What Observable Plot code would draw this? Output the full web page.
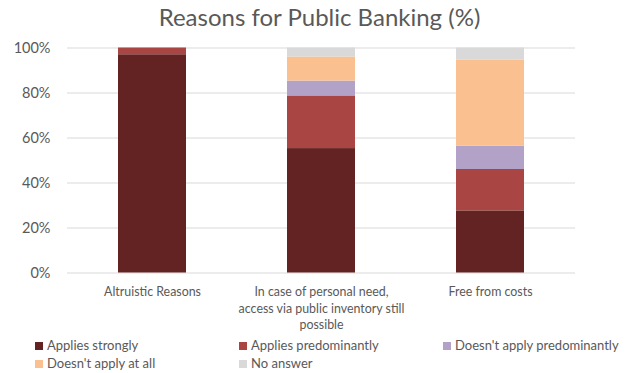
<!DOCTYPE html>
<html>
<head>
<meta charset="utf-8">
<script src="https://cdn.jsdelivr.net/npm/d3@7"></script>
<script src="https://cdn.jsdelivr.net/npm/@observablehq/plot@0.6"></script>
<style>
  html, body { margin: 0; padding: 0; background: #fff; }
  body { width: 625px; height: 373px; overflow: hidden; font-family: Lato, "Open Sans", sans-serif; }
  #title { height: 36px; line-height: 34px; font-size: 24px; color: #595959; text-align: center; padding-left: 14px; box-sizing: border-box; }
  #chart svg { display: block; }
  #legend { position: relative; height: 37px; font-size: 13px; color: #595959; }
  .item { position: absolute; height: 18px; line-height: 18px; white-space: nowrap; }
  .sw { display: inline-block; width: 8px; height: 8px; margin-right: 4px; vertical-align: 0px; }
</style>
</head>
<body>
<div id="title">Reasons for Public Banking (%)</div>
<div id="chart"></div>
<div id="legend"></div>
<script>
const categories = [
  "Altruistic Reasons",
  "In case of personal need, access via public inventory still possible",
  "Free from costs"
];
const categoryLabels = [
  "Altruistic Reasons",
  "In case of personal need,\naccess via public inventory still\npossible",
  "Free from costs"
];
const series = [
  "Applies strongly",
  "Applies predominantly",
  "Doesn't apply predominantly",
  "Doesn't apply at all",
  "No answer"
];
const appliesStrongly = [97, 55.3, 27.6];
const appliesPredominantly = [3, 23.4, 18.4];
const doesntApplyPredominantly = [0, 6.6, 10.4];
const doesntApplyAtAll = [0, 10.7, 38.3];
const noAnswer = [0, 4.0, 5.3];
const colors = ["#632322", "#A94543", "#B3A2C7", "#FAC090", "#D9D9D9"];
const yTicks = [0, 20, 40, 60, 80, 100];

const seriesValues = [appliesStrongly, appliesPredominantly, doesntApplyPredominantly, doesntApplyAtAll, noAnswer];
const rows = [];
series.forEach((s, si) => {
  categories.forEach((c, ci) => {
    rows.push({category: c, series: s, value: seriesValues[si][ci]});
  });
});
const labelOf = new Map(categories.map((c, i) => [c, categoryLabels[i]]));

const chart = Plot.plot({
  width: 625,
  height: 300,
  marginTop: 11.5,
  marginBottom: 63.5,
  marginLeft: 67,
  marginRight: 50,
  style: {fontFamily: "Lato, 'Open Sans', sans-serif", color: "#595959", background: "#fff"},
  x: {domain: categories, paddingInner: 0.6, paddingOuter: 0.3, label: null},
  y: {domain: [0, 100], label: null},
  color: {domain: series, range: colors},
  marks: [
    Plot.gridY(yTicks, {stroke: "#D9D9D9", strokeOpacity: 1, strokeWidth: 1.2}),
    Plot.barY(rows, Plot.stackY({x: "category", y: "value", fill: "series", order: series})),
    Plot.axisY(yTicks, {tickSize: 0, tickPadding: 17, fontSize: 14.5, tickFormat: d => d + "%", fill: "#595959"}),
    Plot.axisX({tickSize: 0, tickPadding: 12, fontSize: 12.4, lineHeight: 1.3, tickFormat: d => labelOf.get(d), fill: "#595959"})
  ]
});
document.getElementById("chart").appendChild(chart);

const legend = document.getElementById("legend");
const colX = [35, 239, 443];
series.forEach((s, i) => {
  const div = document.createElement("div");
  div.className = "item";
  div.style.left = colX[i % 3] + "px";
  div.style.top = (Math.floor(i / 3) * 18) + "px";
  const sw = document.createElement("span");
  sw.className = "sw";
  sw.style.background = colors[i];
  div.appendChild(sw);
  div.appendChild(document.createTextNode(s));
  legend.appendChild(div);
});
</script>
</body>
</html>
